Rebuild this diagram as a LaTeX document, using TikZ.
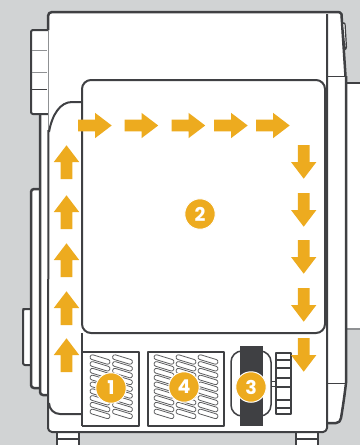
\documentclass[tikz,border=0pt]{standalone}
\usepackage{fontspec}
\setsansfont{Poppins}
\definecolor{backc}{HTML}{D1D3D4}
\definecolor{linec}{HTML}{3F4043}
\definecolor{flowc}{HTML}{EDAB1F}
\definecolor{thinc}{HTML}{8F9193}
\tikzset{>=latex}
\tikzset{
  wall/.style={draw=linec,line width=2.5pt,line join=round},
  panel/.style={draw=linec,line width=2pt,line join=round},
  hair/.style={draw=linec,line width=1pt},
  slot/.style={draw=linec!85,line width=0.8pt,fill=white,rounded corners=2.2pt,minimum width=20.5pt,
    minimum height=4.8pt,inner sep=0pt,rotate=-17},
  badge/.style={circle,fill=flowc,draw=white,line width=1pt,text=white,minimum size=30.5pt,inner sep=0pt,
    font=\sffamily\bfseries\fontsize{19}{19}\selectfont},
  flow/.pic={
    \fill[flowc] (-17,-5.8) -- (0,-5.8) -- (0,-12.7) -- (16.7,0) -- (0,12.7) -- (0,5.8) -- (-17,5.8) -- cycle;
  }
}
\begin{document}
\begin{tikzpicture}[x=1pt,y=-1pt]
  \def\slotA{359.5} % first row of slots
  \def\slotD{6.8} % distance between rows
  \useasboundingbox (0,0) rectangle (360,445);
  \fill[backc] (0,0) rectangle (360,445);
  \fill[white] (346,83) rectangle (360,329); % next cabinet
  \draw[wall] (346,83) -- (360,83);
  \draw[line width=1.5pt,draw=thinc] (346,329) -- (360,329);
  % feet
  \foreach \x in {57,296}{
    \draw[panel,fill=white] (\x,432) rectangle (\x+22,447);
    \draw[panel] (\x,439) -- (\x+22,439);
  }
  % parts on the left side
  \draw[panel,fill=white,rounded corners=2pt] (25,309) -- (23,309) -- (23,365) -- (33,365) -- (33,309) -- cycle;
  \draw[wall,fill=white,rounded corners=3pt] (42,189) -- (31,189) -- (31,388) -- (42,388);
  \draw[wall,fill=white,rounded corners=3pt] (49,110) -- (40,110) -- (40,395) -- (49,395);
  \draw[panel,fill=white,rounded corners=2pt] (49,30) -- (31,30) -- (31,114) -- (49,114);
  \draw[line width=1pt,draw=thinc] (32,50) -- (47,50) (32,72) -- (47,72);
  \draw[hair] (32,89) -- (47,89);
  % body
  \fill[white] (48,12) -- (340,12) -- (346,83) -- (346,383) -- (340,423) -- (327,423) -- (327,432) -- (48,432) -- cycle;
  \draw[wall] (48,30) -- (48,16) arc[start angle=180,end angle=270,radius=4] -- (338,12)
    arc[start angle=-90,end angle=-30,radius=4] -- (345.5,76);
  \draw[line width=1pt,draw=thinc] (48,30) -- (48,130);
  \draw[wall] (346,76) -- (346,383) .. controls (344,400) and (342,412) .. (341,418)
    .. controls (340.5,421) and (339,423) .. (336,423) -- (327,423);
  \draw[panel] (327,14) -- (327,428) arc[start angle=0,end angle=90,radius=4] -- (52,432)
    arc[start angle=90,end angle=180,radius=4] -- (48.5,130);
  \draw[wall] (51,432) -- (323,432);
  \draw[hair] (327,76) -- (345,76) (327,383) -- (346,383);
  \draw[line width=1.2pt,draw=linec,fill=white,rounded corners=1pt] (342.5,23) -- (345,23) -- (346.5,48) -- (345,50) -- cycle;
  % duct
  \draw[panel] (49,132) .. controls (52,115) and (60,102) .. (72,102) -- (82,102);
  \draw[panel] (49,403) arc[start angle=180,end angle=90,radius=11] -- (82,414);
  \draw[panel,rounded corners=9pt] (82,102) -- (82,80) -- (325,80) -- (325,333) -- (82,333) -- (82,102);
  % filters
  \draw[panel] (82,333) -- (82,426) (82,352) -- (139,352) -- (139,426) -- (82,426);
  \draw[panel] (148,352) rectangle (224,426);
  \foreach \r in {0,...,8}{
    \foreach \x/\f in {100/a,122.5/b,164/c,186/d,208/e}{
      \node[slot] (slot\f\r) at (\x,\slotA+\r*\slotD) {};
    }
  }
  % fan
  \draw[line width=1.5pt,draw=linec,rounded corners=11pt] (231,351) rectangle (271,416);
  \fill[linec] (240,346) rectangle (263,426);
  \draw[hair] (271,381) -- (276,381) (271,386) -- (276,386);
  \draw[panel,fill=white] (276,353) rectangle (291,414);
  \foreach \y/\w in {360/2,368/2.5,378/2.5,387/1.2,400/2,408/2.5}{
    \draw[draw=linec,line width=\w pt] (276,\y) -- (291,\y);
  }
  % air flow
  \foreach \x/\y/\a in {66.5/355/90,66.5/308/90,66.5/260/90,66.5/212/90,66.5/162/90,
    95/125.5/0,141.5/125.5/0,188.5/125.5/0,231/125.5/0,273/125.5/0,
    303.7/162/-90,303.7/210/-90,303.7/257/-90,303.7/305/-90,303.7/355/-90}{
    \pic[rotate=\a] at (\x,\y) {flow};
  }
  % numbers
  \foreach \x/\y/\n in {111/388/1,200/214/2,251/387/3,184/387/4}{
    \node[badge] (badge\n) at (\x,\y) {\n};
  }
\end{tikzpicture}
\end{document}
